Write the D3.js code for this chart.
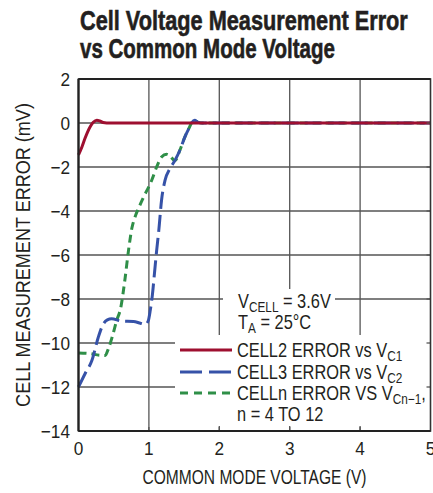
<!DOCTYPE html>
<html><head><meta charset="utf-8">
<script src="https://cdn.jsdelivr.net/npm/d3@7"></script>
<style>body{margin:0;background:#fff}</style>
</head><body><svg id="c" width="433" height="493"></svg>
<script>
// ---- data ----
const xTicks = [0, 1, 2, 3, 4, 5];
const yTicks = [2, 0, -2, -4, -6, -8, -10, -12, -14];
const cell2Error = [[0,-1.45],[0.05,-1.08],[0.09,-0.72],[0.13,-0.4],[0.17,-0.15],[0.21,0.03],[0.26,0.13],[0.3,0.1],[0.35,0.02],[0.4,0],[1,0],[2,0],[3,0],[4,0],[5,0]];
const cell3Error = [[0,-12.0],[0.1,-11.35],[0.19,-10.8],[0.28,-9.75],[0.35,-9.15],[0.41,-8.95],[0.47,-8.9],[0.61,-9.0],[0.78,-9.02],[0.88,-9.1],[0.95,-9.15],[0.99,-9.0],[1.02,-8.5],[1.05,-7.8],[1.08,-6.8],[1.11,-5.8],[1.14,-4.9],[1.18,-3.5],[1.23,-2.6],[1.3,-2.07],[1.37,-1.7],[1.44,-1.24],[1.51,-0.64],[1.56,-0.3],[1.61,0.02],[1.65,0.12],[1.7,0.03],[1.76,0],[2,0],[3,0],[4,0],[5,0]];
const cellnError = [[0,-10.45],[0.16,-10.48],[0.3,-10.56],[0.38,-10.57],[0.42,-10.3],[0.49,-9.6],[0.54,-9.0],[0.6,-8.4],[0.66,-7.1],[0.71,-5.8],[0.76,-4.75],[0.8,-4.3],[0.87,-3.75],[0.92,-3.4],[1.04,-2.6],[1.11,-2.0],[1.18,-1.55],[1.25,-1.42],[1.3,-1.5],[1.37,-1.72],[1.44,-1.24],[1.51,-0.64],[1.56,-0.3],[1.61,0.02],[1.65,0.12],[1.7,0.03],[1.76,0],[2,0],[3,0],[4,0],[5,0]];
const titleLines = ["Cell Voltage Measurement Error", "vs Common Mode Voltage"];
const xTitle = "COMMON MODE VOLTAGE (V)";
const yTitle = "CELL MEASUREMENT ERROR (mV)";

// ---- style ----
const FONT = "'Liberation Sans',Arial,sans-serif";
const TXT = "#231f20";
const RED = "#9e0f30", BLUE = "#3652a8", GREEN = "#2f8f48";
const NARROW = 0.82;
const svg = d3.select("#c");
svg.append("rect").attr("width",433).attr("height",493).attr("fill","#fff");

const x = d3.scaleLinear().domain([0,5]).range([78.5,430.5]);
const y = d3.scaleLinear().domain([-14,2]).range([431,79]);

// condensed text helper: text placed in a horizontally scaled group
function ntext(xp, yp, size, opts={}){
  const g = svg.append("g");
  const t = g.append("text").attr("x",0).attr("y",0)
    .attr("font-family",FONT).attr("font-size",size).attr("fill",TXT)
    .attr("text-anchor",opts.anchor||"start");
  if(opts.weight) t.attr("font-weight",opts.weight);
  if(opts.stroke) t.attr("stroke",TXT).attr("stroke-width",opts.stroke);
  const parts = opts.parts || [{t:opts.text}];
  parts.forEach(p=>{
    const s = t.append("tspan").text(p.t);
    if(p.sub){ s.attr("font-size",size*0.72).attr("dy",size*0.18); }
    else if(p.after){ s.attr("dy",-size*0.18); }
  });
  let sx = opts.sx || NARROW;
  if(opts.width){ sx = opts.width / t.node().getComputedTextLength(); }
  const rot = opts.rotate ? ` rotate(${opts.rotate})` : "";
  g.attr("transform",`translate(${xp},${yp})${rot} scale(${sx},1)`);
  return sx;
}

// title
ntext(80,30,28,{weight:"bold",text:titleLines[0],width:328,stroke:0.6});
ntext(80,57.5,28,{weight:"bold",text:titleLines[1],width:255,stroke:0.6});

// grid
const g = svg.append("g");
g.selectAll("line.gx").data(xTicks.slice(1,-1)).join("line")
  .attr("x1",d=>x(d)).attr("x2",d=>x(d)).attr("y1",y(2)).attr("y2",y(-14))
  .attr("stroke","#555").attr("stroke-width",1.3);
g.selectAll("line.gy").data(yTicks.slice(1,-1)).join("line")
  .attr("y1",d=>y(d)).attr("y2",d=>y(d)).attr("x1",x(0)).attr("x2",x(5))
  .attr("stroke","#555").attr("stroke-width",1.3);

// curves
const line = d3.line().x(d=>x(d[0])).y(d=>y(d[1])).curve(d3.curveMonotoneX);
svg.append("path").datum(cellnError).attr("d",line).attr("fill","none")
  .attr("stroke",GREEN).attr("stroke-width",3).attr("stroke-dasharray","8,5");
svg.append("path").datum(cell3Error).attr("d",line).attr("fill","none")
  .attr("stroke",BLUE).attr("stroke-width",3).attr("stroke-dasharray","17,6");
svg.append("path").datum(cell2Error).attr("d",line).attr("fill","none")
  .attr("stroke",RED).attr("stroke-width",3);

// annotation + legend boxes
svg.append("rect").attr("x",223).attr("y",289).attr("width",112).attr("height",47).attr("fill","#fff");
svg.append("rect").attr("x",175).attr("y",335).attr("width",255).attr("height",91).attr("fill","#fff");

// inward tick stubs
const T = 4;
xTicks.slice(1,-1).forEach(v=>{
  svg.append("line").attr("x1",x(v)).attr("x2",x(v)).attr("y1",y(-14)).attr("y2",y(-14)-T).attr("stroke","#555").attr("stroke-width",1.3);
});
yTicks.slice(1,-1).forEach(v=>{
  svg.append("line").attr("x1",x(5)).attr("x2",x(5)-T).attr("y1",y(v)).attr("y2",y(v)).attr("stroke","#555").attr("stroke-width",1.3);
});

// frame
svg.append("rect").attr("x",x(0)).attr("y",y(2)).attr("width",x(5)-x(0)).attr("height",y(-14)-y(2))
  .attr("fill","none").attr("stroke","#333").attr("stroke-width",1.6);
svg.append("line").attr("x1",x(0)).attr("x2",x(0)).attr("y1",y(2)).attr("y2",y(-14)).attr("stroke","#222").attr("stroke-width",2.2);
svg.append("line").attr("x1",x(0)).attr("x2",x(5)).attr("y1",y(-14)).attr("y2",y(-14)).attr("stroke","#222").attr("stroke-width",2.2);
svg.append("line").attr("x1",x(0)).attr("x2",x(5)).attr("y1",y(2)).attr("y2",y(2)).attr("stroke","#222").attr("stroke-width",2.2);

// tick labels
const fmt = v => v < 0 ? "\u2212" + Math.abs(v) : String(v);
yTicks.forEach(v=> ntext(70, y(v)+6.8, 18.5, {text:fmt(v), anchor:"end", sx:0.93}));
xTicks.forEach(v=> ntext(x(v), 455, 18.5, {text:fmt(v), anchor:"middle", sx:0.93}));

// axis titles
ntext((x(0)+x(5))/2, 484, 19.5, {text:xTitle, anchor:"middle", width:224});
ntext(29.5, (y(2)+y(-14))/2, 19.5, {text:yTitle, anchor:"middle", rotate:-90, width:304});

// annotation
ntext(238,308,20,{parts:[{t:"V"},{t:"CELL",sub:true},{t:" = 3.6V",after:true}]});
ntext(238,329,20,{parts:[{t:"T"},{t:"A",sub:true},{t:" = 25°C",after:true}]});

// legend
const legendItems = [
  {color:RED, dash:null, y:350, parts:[{t:"CELL2 ERROR vs V"},{t:"C1",sub:true}]},
  {color:BLUE, dash:"22,7", y:372, parts:[{t:"CELL3 ERROR vs V"},{t:"C2",sub:true}]},
  {color:GREEN, dash:"8,6", y:393, parts:[{t:"CELLn ERROR VS V"},{t:"Cn\u22121",sub:true},{t:",",after:true}]}
];
legendItems.forEach(it=>{
  const l = svg.append("line").attr("x1",180).attr("x2",232).attr("y1",it.y).attr("y2",it.y)
    .attr("stroke",it.color).attr("stroke-width",3);
  if(it.dash) l.attr("stroke-dasharray",it.dash);
  ntext(237,it.y+7,20,{parts:it.parts});
});
ntext(237,421,20,{text:"n = 4 TO 12"});
</script>
</body></html>
